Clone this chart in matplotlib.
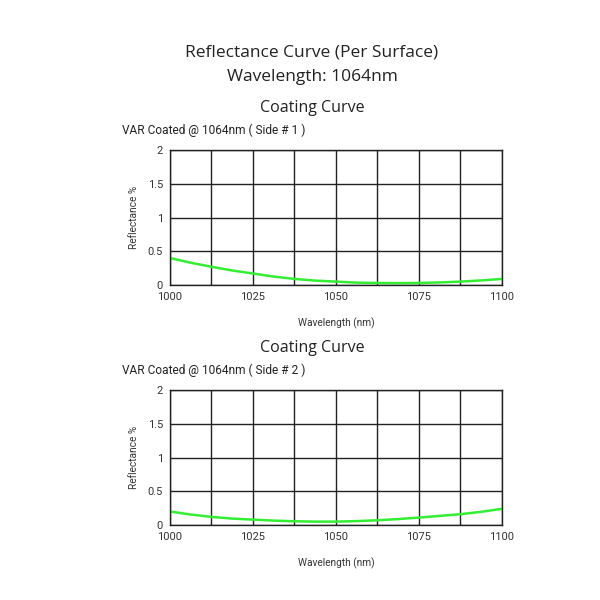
import numpy as np
import matplotlib.pyplot as plt

wavelength = [1000, 1006.25, 1012.5, 1018.75, 1025, 1031.25, 1037.5, 1043.75, 1050,
              1056.25, 1062.5, 1068.75, 1075, 1081.25, 1087.5, 1093.75, 1100]
side1 = [0.40, 0.33, 0.27, 0.215, 0.17, 0.125, 0.09, 0.065, 0.05,
         0.035, 0.03, 0.028, 0.03, 0.038, 0.05, 0.068, 0.09]
side2 = [0.20, 0.155, 0.12, 0.095, 0.08, 0.065, 0.055, 0.05, 0.05,
         0.058, 0.07, 0.088, 0.11, 0.135, 0.16, 0.195, 0.24]
subtitles = ['VAR Coated @ 1064nm ( Side # 1 )', 'VAR Coated @ 1064nm ( Side # 2 )']

fig = plt.figure(figsize=(6, 6), dpi=100)
fig.text(0.52, 0.912, 'Reflectance Curve (Per Surface)', ha='center', va='center',
         family='Open Sans', fontsize=12.5, color='#222222')
fig.text(0.52, 0.872, 'Wavelength: 1064nm', ha='center', va='center',
         family='Open Sans', fontsize=12.5, color='#222222')

for bottom, ys, sub, head_y in [(0.525, side1, subtitles[0], 0.82),
                                (0.125, side2, subtitles[1], 0.42)]:
    ax = fig.add_axes([0.2833, bottom, 0.5533, 0.225])
    ax.plot(wavelength, ys, color='#33ee33', lw=1.8)
    ax.set_xlim(1000, 1100)
    ax.set_ylim(0, 2)
    ax.set_xticks(np.arange(1000, 1101, 12.5))
    ax.set_xticklabels(['1000', '', '1025', '', '1050', '', '1075', '', '1100'])
    ax.set_yticks([0, 0.5, 1, 1.5, 2])
    ax.set_yticklabels(['0', '0.5', '1', '1.5', '2'])
    ax.grid(True, color='#222222', lw=1)
    ax.tick_params(length=0, labelsize=8, colors='#333333')
    ax.tick_params(axis='x', pad=5)
    ax.tick_params(axis='y', pad=5)
    for lbl in ax.get_xticklabels() + ax.get_yticklabels():
        lbl.set_family('Roboto')
    for s in ax.spines.values():
        s.set_color('#222222')
        s.set_linewidth(1)
    ax.set_xlabel('Wavelength (nm)', family='Roboto', fontsize=7.3, color='#333333', labelpad=11)
    ax.set_ylabel('Reflectance %', family='Roboto', fontsize=7.3, color='#333333', labelpad=6)
    fig.text(0.52, head_y, 'Coating Curve', ha='center', va='center',
             family='Open Sans', fontsize=11.5, color='#222222')
    fig.text(0.203, head_y - 0.037, sub, ha='left', va='center',
             family='Roboto', fontsize=8.6, color='#222222')

fig.savefig('out.png', dpi=100, facecolor='white')
